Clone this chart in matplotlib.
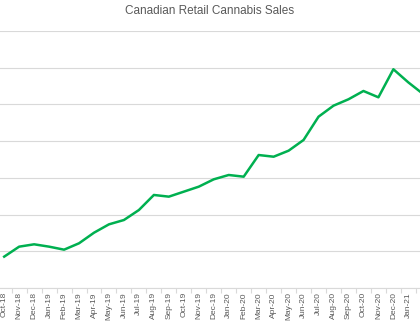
import matplotlib.pyplot as plt
import numpy as np

# monthly sales (millions CAD)
months = ['Oct-18', 'Nov-18', 'Dec-18', 'Jan-19', 'Feb-19', 'Mar-19', 'Apr-19',
          'May-19', 'Jun-19', 'Jul-19', 'Aug-19', 'Sep-19', 'Oct-19', 'Nov-19',
          'Dec-19', 'Jan-20', 'Feb-20', 'Mar-20', 'Apr-20', 'May-20', 'Jun-20',
          'Jul-20', 'Aug-20', 'Sep-20', 'Oct-20', 'Nov-20', 'Dec-20', 'Jan-21',
          'Feb-21']
sales = [42.7, 56.3, 59.5, 56.3, 52.2, 60.9, 75.3, 86.7, 92.6, 106.2, 126.7,
         124.4, 131.2, 138.0, 148.0, 153.9, 151.6, 181.1, 178.8, 187.0, 201.6,
         233.3, 248.3, 257.0, 268.3, 259.7, 297.9, 280.0, 264.0]
y_ticks = [0, 50, 100, 150, 200, 250, 300, 350]

fig = plt.figure(figsize=(4.2, 3.22), dpi=100)
# plot area is wider than the picture (chart was cropped)
ax = fig.add_axes([-3.3 / 420, 34 / 322, 434.1 / 420, 257 / 322])

x = np.arange(len(months))
ax.plot(x, sales, color='#00b050', linewidth=1.8, solid_joinstyle='round')

ax.set_xlim(-0.5, len(months) - 0.5)
ax.set_ylim(0, 350)
ax.set_yticks(y_ticks)
ax.set_yticklabels([])
ax.tick_params(axis='y', length=0)
ax.grid(axis='y', color='#d9d9d9', linewidth=0.8)
ax.set_axisbelow(True)

# last month sits past the cropped edge, its label is not shown
shown = x[:-1]
ax.set_xticks(shown)
ax.set_xticklabels(months[:-1], rotation=90, fontsize=6, color='#595959',
                   family='Liberation Sans')
ax.tick_params(axis='x', length=0, pad=3)
ax.set_xticks(np.arange(len(months) + 1) - 0.5, minor=True)
ax.tick_params(axis='x', which='minor', length=3.5, color='#d9d9d9', width=0.8)

for s in ['left', 'right', 'top']:
    ax.spines[s].set_visible(False)
ax.spines['bottom'].set_color('#d9d9d9')
ax.spines['bottom'].set_linewidth(0.8)

fig.text(0.5, 1 - 11 / 322, 'Canadian Retail Cannabis Sales', ha='center',
         va='center', fontsize=8.5, color='#595959', family='Liberation Sans')

fig.savefig('out.png', dpi=100, facecolor='white')
